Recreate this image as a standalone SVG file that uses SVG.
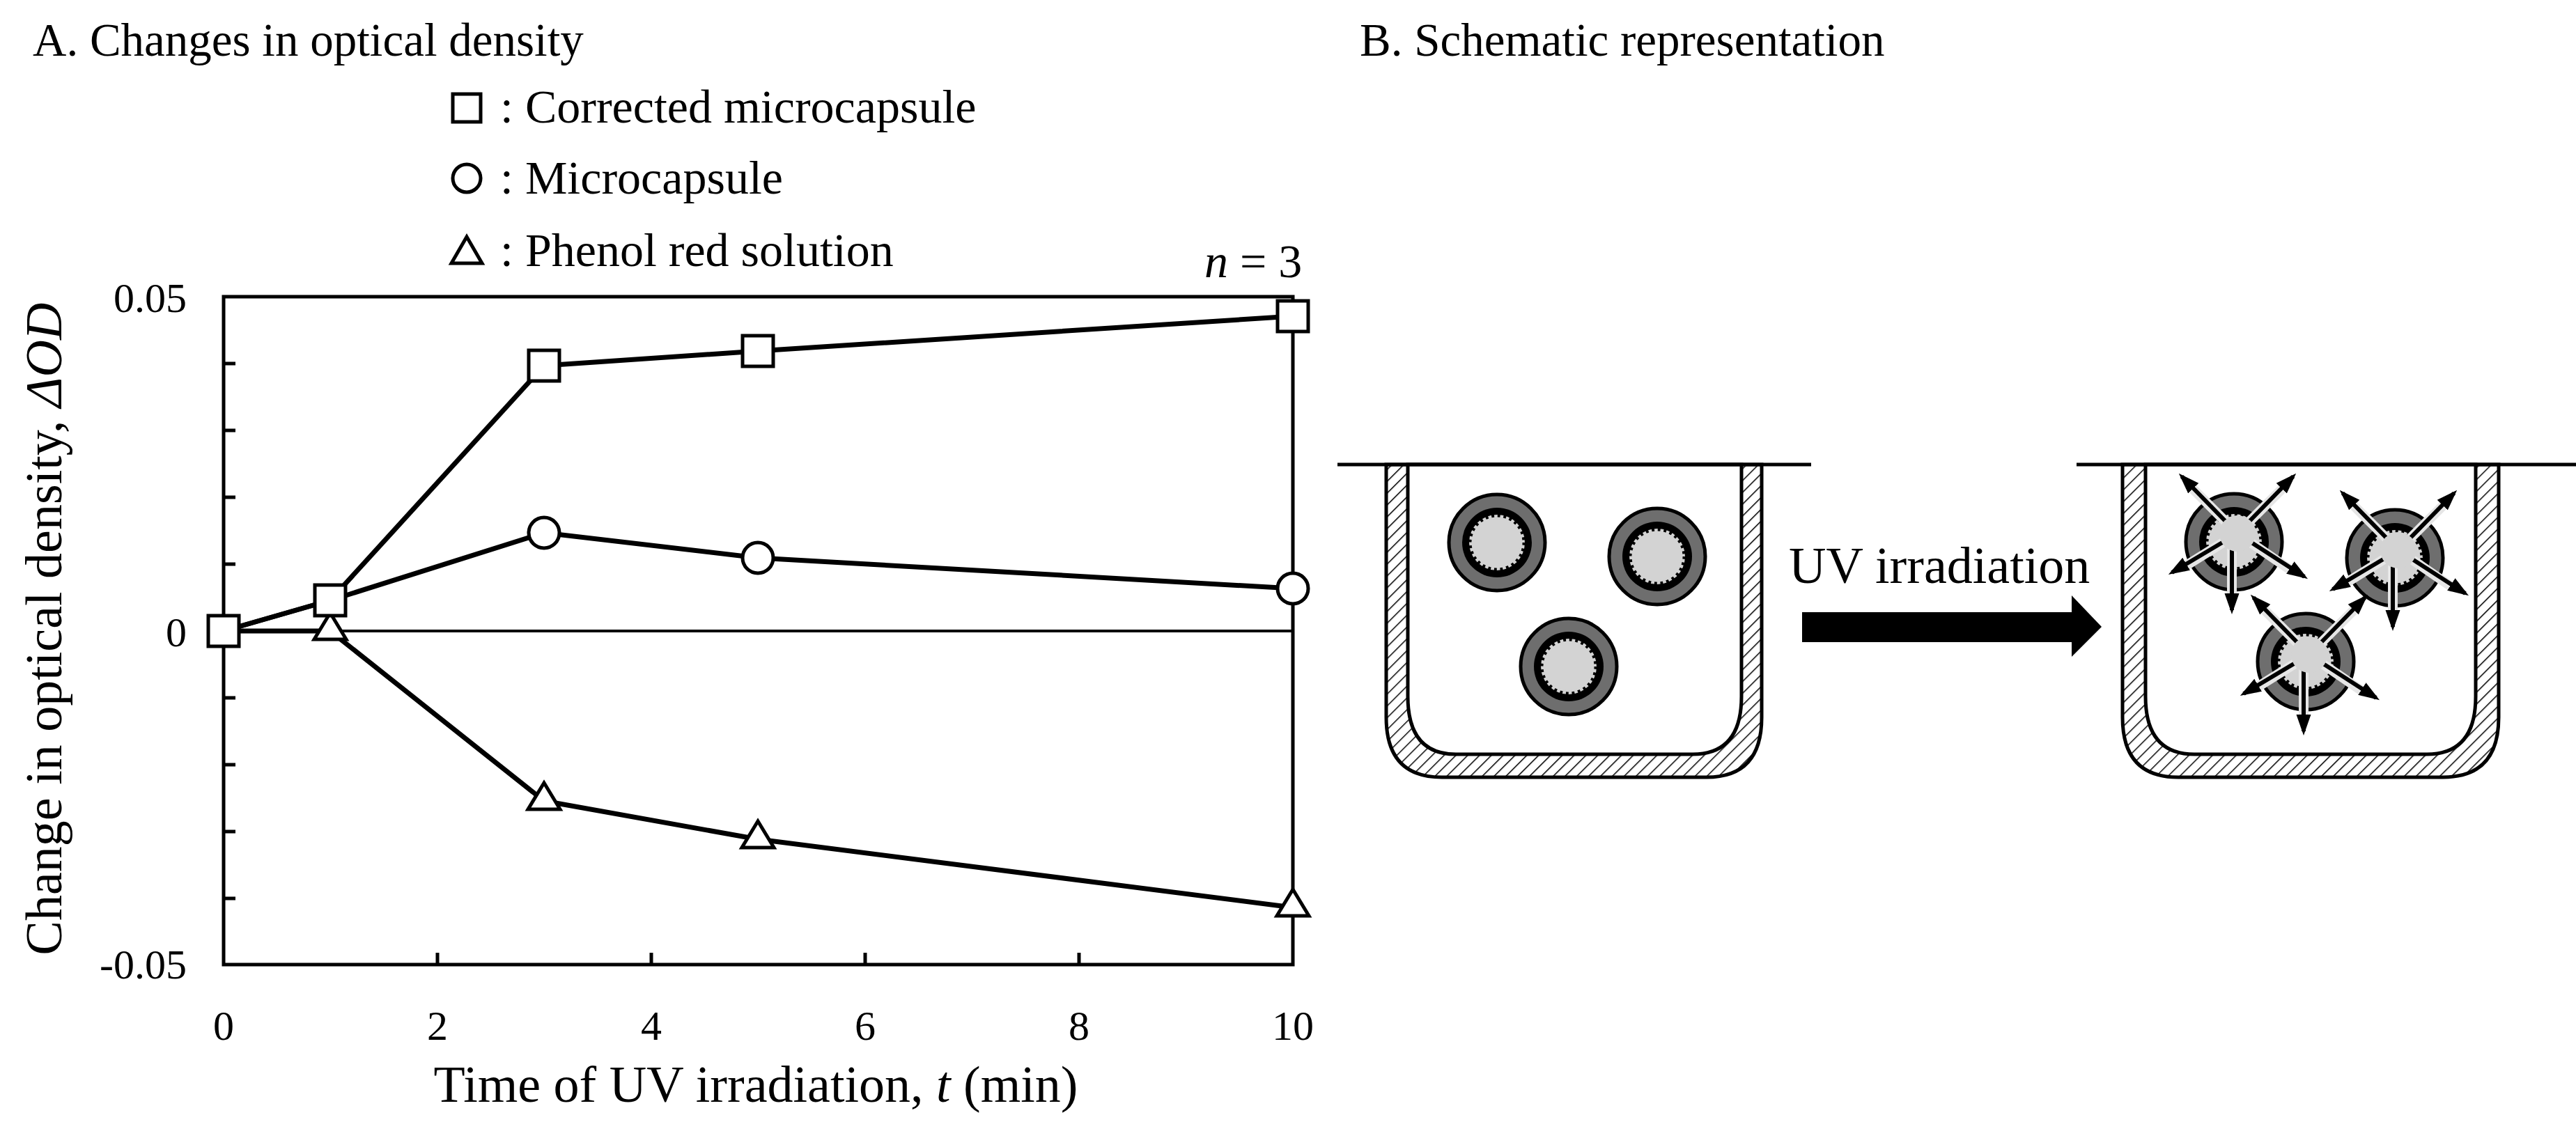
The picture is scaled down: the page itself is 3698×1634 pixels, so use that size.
<svg xmlns="http://www.w3.org/2000/svg" width="3698" height="1634" viewBox="0 0 3698 1634">
<style>
text{font-family:"Liberation Serif","Times New Roman",serif;fill:#000}
.t{font-size:67px}
.lg{font-size:68px}
.lbl{font-size:60px}
.at{font-size:74px}
.ax{stroke:#000;stroke-width:5;fill:none}
.ser{stroke:#000;stroke-width:7;fill:none;stroke-linejoin:round}
.mk{stroke:#000;stroke-width:5;fill:#fff}
.wallo{fill:url(#hatch);stroke:#000;stroke-width:5}
.walli{fill:#fff;stroke:#000;stroke-width:5}
.arw{stroke:#000;stroke-width:6;marker-end:url(#ah)}
.arwb{stroke:#e6e6e6;stroke-width:14}
</style>
<defs>
<pattern id="hatch" width="12" height="12" patternUnits="userSpaceOnUse" patternTransform="rotate(45)">
<rect width="12" height="12" fill="#fff"/><line x1="0" y1="0" x2="0" y2="12" stroke="#000" stroke-width="3"/>
</pattern>
<marker id="ah" viewBox="0 0 10 10" refX="8" refY="5" markerWidth="5" markerHeight="5" orient="auto" markerUnits="strokeWidth">
<path d="M0,1.5 L10,5 L0,8.5 Z" fill="#000"/>
</marker>
<g id="cap">
<circle r="69" fill="#6e6e6e" stroke="#000" stroke-width="5"/>
<circle r="50" fill="#000"/>
<circle r="40" fill="#d3d3d3" stroke="#000" stroke-width="7" stroke-dasharray="4 5"/>
<circle r="34" fill="#d3d3d3"/>
</g>
<g id="burst">
<line class="arwb" x1="0" y1="0" x2="-70" y2="-70"/>
<line class="arwb" x1="0" y1="0" x2="70" y2="-70"/>
<line class="arwb" x1="0" y1="0" x2="-80" y2="50"/>
<line class="arwb" x1="0" y1="0" x2="80" y2="55"/>
<line class="arwb" x1="-8" y1="0" x2="-8" y2="90"/>
<line class="arw" x1="0" y1="0" x2="-80" y2="-82"/>
<line class="arw" x1="0" y1="0" x2="80" y2="-82"/>
<line class="arw" x1="0" y1="0" x2="-94" y2="56"/>
<line class="arw" x1="0" y1="0" x2="96" y2="62"/>
<line class="arw" x1="-8" y1="0" x2="-8" y2="110"/>
<circle r="26" fill="#d3d3d3"/>
</g>
</defs>

<g id="titles">
<text class="t" x="47" y="80">A. Changes in optical density</text>
<text class="t" x="1952" y="80">B. Schematic representation</text>
</g>

<g id="legend">
<rect x="650" y="135" width="40" height="40" class="mk" stroke-width="4"/>
<text class="lg" x="718" y="176">: Corrected microcapsule</text>
<circle cx="670" cy="256" r="20" class="mk" stroke-width="4"/>
<text class="lg" x="718" y="278">: Microcapsule</text>
<path d="M670,340 L692,378 L648,378 Z" class="mk" stroke-width="4"/>
<text class="lg" x="718" y="382">: Phenol red solution</text>
<text class="lg" x="1729" y="398"><tspan font-style="italic">n</tspan> = 3</text>
</g>

<g id="axes">
<rect x="321" y="426" width="1535" height="959" class="ax"/>
<line x1="321" y1="906" x2="1856" y2="906" stroke="#000" stroke-width="4"/>
<path class="ax" d="M321,522h17M321,618h17M321,714h17M321,810h17M321,1002h17M321,1098h17M321,1194h17M321,1290h17M628,1385v-17M935,1385v-17M1242,1385v-17M1549,1385v-17"/>
<g class="lbl" text-anchor="end">
<text x="268" y="448">0.05</text>
<text x="268" y="928">0</text>
<text x="268" y="1405">-0.05</text>
</g>
<g class="lbl" text-anchor="middle">
<text x="321" y="1493">0</text><text x="628" y="1493">2</text><text x="935" y="1493">4</text><text x="1242" y="1493">6</text><text x="1549" y="1493">8</text><text x="1856" y="1493">10</text>
</g>
<g class="at" text-anchor="middle">
<text x="1085" y="1582">Time of UV irradiation, <tspan font-style="italic">t</tspan> (min)</text>
<text transform="translate(88,903) rotate(-90)">Change in optical density, <tspan font-style="italic">ΔOD</tspan></text>
</g>
</g>

<g id="series-triangle">
<polyline class="ser" points="321,906 474,906 781,1150 1088,1205 1856,1303"/>
<path class="mk" d="M474,880 L497,918 L451,918 Z"/>
<path class="mk" d="M781,1124 L804,1162 L758,1162 Z"/>
<path class="mk" d="M1088,1179 L1111,1217 L1065,1217 Z"/>
<path class="mk" d="M1856,1277 L1879,1315 L1833,1315 Z"/>
</g>
<g id="series-circle">
<polyline class="ser" points="321,906 474,862 781,765 1088,801 1856,845"/>
<circle class="mk" cx="781" cy="765" r="22"/>
<circle class="mk" cx="1088" cy="801" r="22"/>
<circle class="mk" cx="1856" cy="845" r="22"/>
</g>
<g id="series-square">
<polyline class="ser" points="321,906 474,862 781,525 1088,504 1856,454"/>
<rect class="mk" x="299" y="884" width="44" height="44"/>
<rect class="mk" x="452" y="840" width="44" height="44"/>
<rect class="mk" x="759" y="503" width="44" height="44"/>
<rect class="mk" x="1066" y="482" width="44" height="44"/>
<rect class="mk" x="1834" y="432" width="44" height="44"/>
</g>

<g id="beaker-before">
<path class="wallo" d="M1990,667 L1990,1030 Q1990,1116 2070,1116 L2450,1116 Q2529,1116 2529,1030 L2529,667 Z"/>
<path class="walli" d="M2021,667 L2021,1000 Q2021,1083 2090,1083 L2430,1083 Q2500,1083 2500,1000 L2500,667 Z"/>
<line x1="1920" y1="667" x2="2600" y2="667" stroke="#000" stroke-width="5"/>
<use href="#cap" x="2149" y="779"/>
<use href="#cap" x="2379" y="799"/>
<use href="#cap" x="2252" y="957"/>
</g>

<g id="uv-arrow">
<text class="at" x="2568" y="837">UV irradiation</text>
<path d="M2587,879 L2974,879 L2974,855 L3017,900 L2974,943 L2974,922 L2587,922 Z" fill="#000"/>
</g>

<g id="beaker-after">
<path class="wallo" d="M3047,667 L3047,1030 Q3047,1116 3127,1116 L3507,1116 Q3587,1116 3587,1030 L3587,667 Z"/>
<path class="walli" d="M3080,667 L3080,1000 Q3080,1083 3150,1083 L3484,1083 Q3554,1083 3554,1000 L3554,667 Z"/>
<line x1="2981" y1="667" x2="3698" y2="667" stroke="#000" stroke-width="5"/>
<use href="#cap" x="3207" y="778"/>
<use href="#cap" x="3438" y="801"/>
<use href="#cap" x="3310" y="950"/>
<use href="#burst" x="3212" y="766"/>
<use href="#burst" x="3443" y="790"/>
<use href="#burst" x="3315" y="940"/>
</g>
</svg>
